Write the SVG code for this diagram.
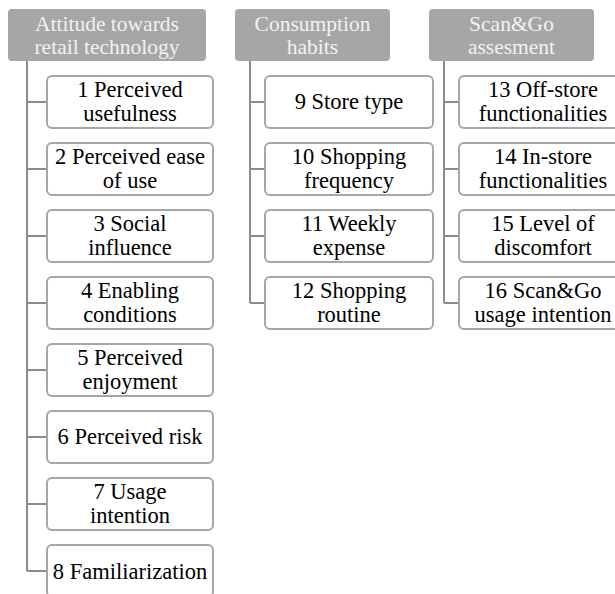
<svg xmlns="http://www.w3.org/2000/svg" width="615" height="594" viewBox="0 0 615 594" font-family="'Liberation Serif', 'Times New Roman', serif">
<style>
text{font-family:"Liberation Serif","Times New Roman",serif;text-anchor:middle;}
.hdr rect{fill:#a6a6a6;}
.hdr text{fill:#f2f2f2;font-size:21.5px;}
.box rect{fill:#fff;stroke:#a6a6a6;stroke-width:2;}
.box text{fill:#000;font-size:22.5px;}
#connectors path{fill:none;stroke:#8c8c8c;stroke-width:2;}
</style>
<rect width="615" height="594" fill="#fff"/>
<g id="connectors">
<path d="M27 61V571M27 102H47M27 169H47M27 236H47M27 303H47M27 370H47M27 437H47M27 504H47M27 571H47"/>
<path d="M250 61V303M250 102H265M250 169H265M250 236H265M250 303H265"/>
<path d="M444 61V303M444 102H459M444 169H459M444 236H459M444 303H459"/>
</g>
<g id="h1" class="hdr"><rect x="8" y="9" width="198" height="52" rx="4"/><text x="107" y="31">Attitude towards</text><text x="107" y="54">retail technology</text></g>
<g id="h2" class="hdr"><rect x="235" y="9" width="155" height="52" rx="4"/><text x="312.5" y="31">Consumption</text><text x="312.5" y="54">habits</text></g>
<g id="h3" class="hdr"><rect x="429" y="9" width="165" height="52" rx="4"/><text x="511.5" y="31">Scan&amp;Go</text><text x="511.5" y="54">assesment</text></g>

<g id="n1" class="box"><rect x="47" y="76" width="166" height="52" rx="5"/><text x="130" y="97">1 Perceived</text><text x="130" y="121">usefulness</text></g>
<g id="n2" class="box"><rect x="47" y="143" width="166" height="52" rx="5"/><text x="130" y="164">2 Perceived ease</text><text x="130" y="188">of use</text></g>
<g id="n3" class="box"><rect x="47" y="210" width="166" height="52" rx="5"/><text x="130" y="231">3 Social</text><text x="130" y="255">influence</text></g>
<g id="n4" class="box"><rect x="47" y="277" width="166" height="52" rx="5"/><text x="130" y="298">4 Enabling</text><text x="130" y="322">conditions</text></g>
<g id="n5" class="box"><rect x="47" y="344" width="166" height="52" rx="5"/><text x="130" y="365">5 Perceived</text><text x="130" y="389">enjoyment</text></g>
<g id="n6" class="box"><rect x="47" y="411" width="166" height="52" rx="5"/><text x="130" y="444">6 Perceived risk</text></g>
<g id="n7" class="box"><rect x="47" y="478" width="166" height="52" rx="5"/><text x="130" y="499">7 Usage</text><text x="130" y="523">intention</text></g>
<g id="n8" class="box"><rect x="47" y="545" width="166" height="52" rx="5"/><text x="130" y="579">8 Familiarization</text></g>

<g id="n9" class="box"><rect x="265" y="76" width="168" height="52" rx="5"/><text x="349" y="109">9 Store type</text></g>
<g id="n10" class="box"><rect x="265" y="143" width="168" height="52" rx="5"/><text x="349" y="164">10 Shopping</text><text x="349" y="188">frequency</text></g>
<g id="n11" class="box"><rect x="265" y="210" width="168" height="52" rx="5"/><text x="349" y="231">11 Weekly</text><text x="349" y="255">expense</text></g>
<g id="n12" class="box"><rect x="265" y="277" width="168" height="52" rx="5"/><text x="349" y="298">12 Shopping</text><text x="349" y="322">routine</text></g>

<g id="n13" class="box"><rect x="459" y="76" width="168" height="52" rx="5"/><text x="543" y="97">13 Off-store</text><text x="543" y="121">functionalities</text></g>
<g id="n14" class="box"><rect x="459" y="143" width="168" height="52" rx="5"/><text x="543" y="164">14 In-store</text><text x="543" y="188">functionalities</text></g>
<g id="n15" class="box"><rect x="459" y="210" width="168" height="52" rx="5"/><text x="543" y="231">15 Level of</text><text x="543" y="255">discomfort</text></g>
<g id="n16" class="box"><rect x="459" y="277" width="168" height="52" rx="5"/><text x="543" y="298">16 Scan&amp;Go</text><text x="543" y="322">usage intention</text></g>
</svg>
